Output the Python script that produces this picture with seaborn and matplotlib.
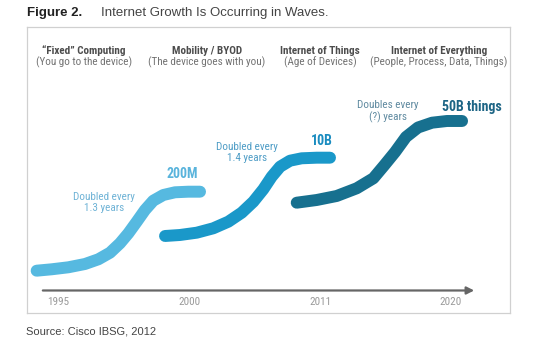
import matplotlib
matplotlib.use("Agg")
import matplotlib.pyplot as plt
from matplotlib import font_manager
import seaborn as sns
import pandas as pd

# Timeline milestones (evenly spaced positions on the time arrow)
years = ["1995", "2000", "2011", "2020"]

# Era headings and their sub-captions
eras = ["\u201cFixed\u201d Computing", "Mobility / BYOD", "Internet of Things", "Internet of Everything"]
era_notes = ["(You go to the device)", "(The device goes with you)", "(Age of Devices)",
             "(People, Process, Data, Things)"]

# Growth waves: position along the timeline (0 = 1995 ... 3 = 2020) and growth level
wave1_x = [-0.163, -0.048, 0.079, 0.206, 0.308, 0.397, 0.473, 0.537, 0.601, 0.664,
           0.727, 0.804, 0.893, 0.995, 1.084]
wave1_y = [9.9, 10.6, 11.6, 13.25, 15.6, 18.9, 23.6, 28.6, 34.4, 40.25,
           44.9, 47.75, 49.1, 49.4, 49.4]
wave2_x = [0.817, 0.931, 1.059, 1.185, 1.300, 1.402, 1.491, 1.567, 1.631, 1.695,
           1.771, 1.860, 1.975, 2.076]
wave2_y = [27.25, 27.75, 28.9, 31.1, 34.4, 38.9, 44.4, 50.6, 56.9, 61.9,
           64.9, 66.1, 66.4, 66.4]
wave3_x = [1.822, 1.975, 2.127, 2.280, 2.407, 2.489, 2.573, 2.656, 2.748, 2.855,
           2.969, 3.084]
wave3_y = [43.9, 45.25, 47.25, 51.1, 56.1, 62.5, 69.25, 76.75, 81.5, 83.9,
           84.75, 84.75]

wave_names = ["Fixed", "Mobility", "IoE"]
wave_colors = ["#56b9e0", "#1a98c9", "#17708f"]

# Wave callouts: end-point size and doubling rate
sizes = ["200M", "10B", "50B things"]
rates = ["Doubled every\n1.3 years", "Doubled every\n1.4 years", "Doubles every\n(?) years"]


def pick(*names):
    """Return the installed families among names (keeping order) plus a fallback."""
    have = {}
    for f in font_manager.fontManager.ttflist:
        have.setdefault(f.name, set()).add(f.weight if isinstance(f.weight, int) else 400)
    ok = [n for n in names if n in have and max(have[n]) >= 700]
    return ok + ["DejaVu Sans"]


sns.set_theme(style="white")
narrow = pick("Roboto Condensed", "PT Sans Narrow", "Archivo Narrow", "Liberation Sans")
regular = pick("Liberation Sans", "Arimo")
plt.rcParams["font.family"] = regular

df = pd.concat([
    pd.DataFrame({"pos": wave1_x, "level": wave1_y, "wave": wave_names[0]}),
    pd.DataFrame({"pos": wave2_x, "level": wave2_y, "wave": wave_names[1]}),
    pd.DataFrame({"pos": wave3_x, "level": wave3_y, "wave": wave_names[2]}),
], ignore_index=True)

fig = plt.figure(figsize=(5.5, 3.43), dpi=100)
ax = fig.add_axes([0.0491, 0.0875, 0.8782, 0.8338])

sns.lineplot(data=df, x="pos", y="level", hue="wave", hue_order=wave_names,
             palette=wave_colors, estimator=None, sort=False, linewidth=8.6,
             solid_capstyle="round", solid_joinstyle="round", legend=False, ax=ax)

ax.set_xlim(-0.2366, 3.450)
ax.set_ylim(-11.25, 131.75)
ax.set_xticks([])
ax.set_yticks([])
ax.set_xlabel("")
ax.set_ylabel("")
for s in ax.spines.values():
    s.set_color("#d0d0d0")
    s.set_linewidth(0.9)

# Time arrow and year marks
ax.annotate("", xy=(3.198, 0), xytext=(-0.137, 0),
            arrowprops=dict(arrowstyle="-|>", color="#666666", lw=1.6, mutation_scale=11))
for i, yr in enumerate(years):
    ax.text(i, -5.75, yr, ha="center", va="center", fontsize=8, color="#9a9a9a", family=narrow)

# Era headings
era_x = [0.198, 1.137, 2.0, 2.908]
for x, head, note in zip(era_x, eras, era_notes):
    ax.text(x, 119.75, head, ha="center", va="center", fontsize=8, fontweight="bold",
            color="#4d4d4d", family=narrow)
    ax.text(x, 114.25, note, ha="center", va="center", fontsize=8, color="#737373", family=narrow)

# Callouts
size_pos = [(0.95, 58.25), (2.015, 74.75), (3.16, 91.75)]
size_cols = ["#5ab4dc", "#1a8cc0", "#1d6585"]
for (x, y), t, c in zip(size_pos, sizes, size_cols):
    ax.text(x, y, t, ha="center", va="center", fontsize=10, fontweight="bold", color=c, family=narrow)

rate_pos = [(0.35, 44.0), (1.443, 69.0), (2.519, 89.5)]
rate_cols = ["#6fb3d6", "#4f9dc6", "#5f8aa0"]
for (x, y), t, c in zip(rate_pos, rates, rate_cols):
    ax.text(x, y, t, ha="center", va="center", fontsize=8, color=c, family=narrow,
            linespacing=1.15)

# Figure title and source line
fig.text(27 / 550, 1 - 13 / 343, "Figure 2.", ha="left", va="center", fontsize=9.5,
         fontweight="bold", color="#222222")
fig.text(101 / 550, 1 - 13 / 343, "Internet Growth Is Occurring in Waves.", ha="left",
         va="center", fontsize=9.5, color="#444444")
fig.text(26 / 550, 1 - 331 / 343, "Source: Cisco IBSG, 2012", ha="left", va="center",
         fontsize=8, color="#444444")

fig.savefig("out.png", dpi=100)
